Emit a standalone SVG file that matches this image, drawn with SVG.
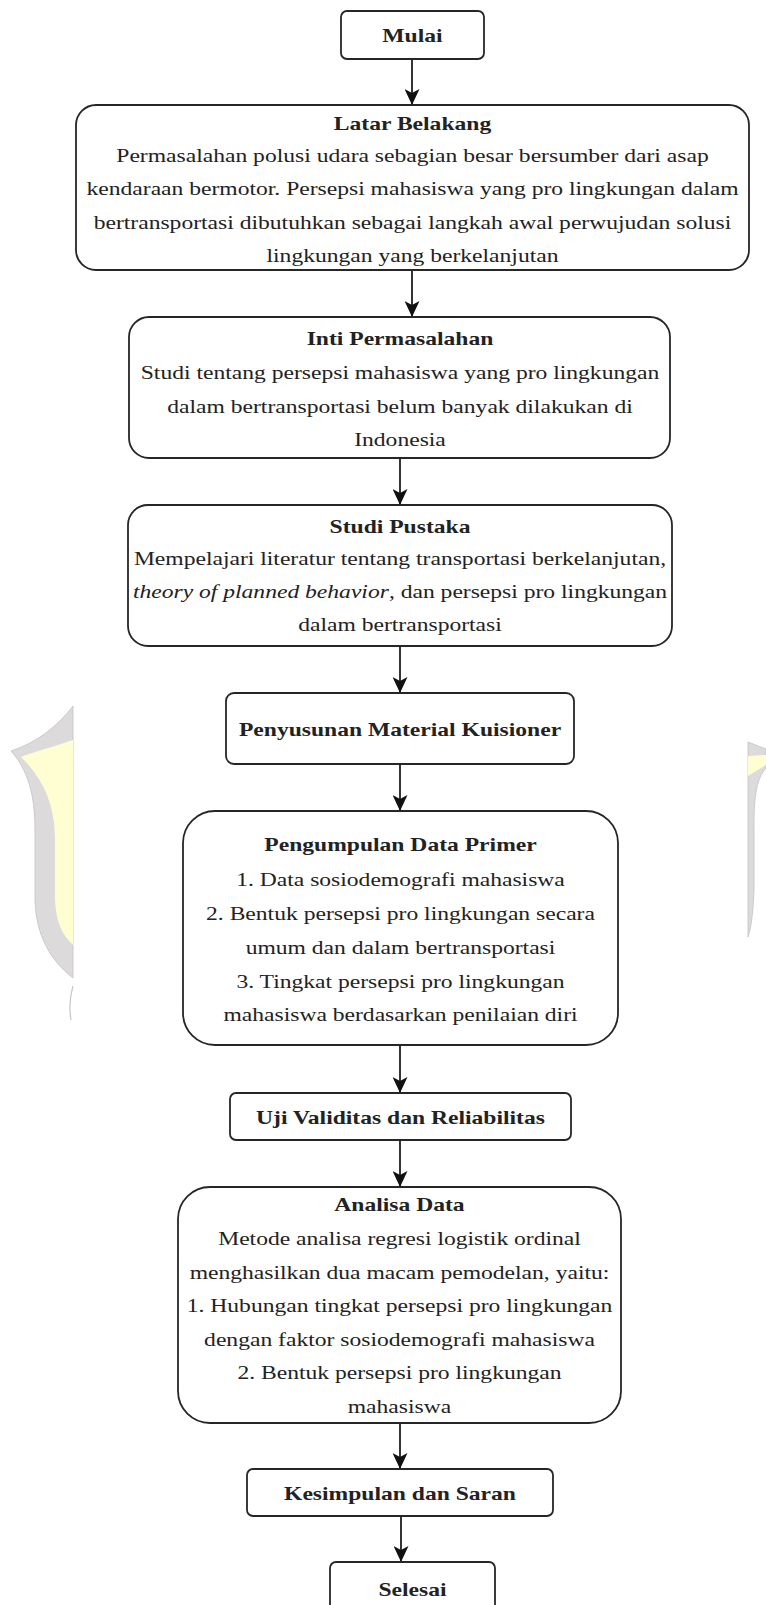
<svg xmlns="http://www.w3.org/2000/svg" width="766" height="1605" viewBox="0 0 766 1605">
<style>
.box{fill:#fff;stroke:#262626;stroke-width:1.8}
.t{font-family:"Liberation Serif","Times New Roman",serif;font-size:19.5px;fill:#222;text-anchor:middle}
.b{font-weight:bold}
.i{font-style:italic}
.edge{stroke:#111;stroke-width:1.7;fill:none;marker-end:url(#ah)}
.wg{fill:#dcdadb;stroke:#c4c2c3;stroke-width:0.8}
.wy{fill:#fffdd2}
</style>
<defs>
<marker id="ah" viewBox="0 0 16 15" refX="16" refY="7.5" markerWidth="16" markerHeight="15" markerUnits="userSpaceOnUse" orient="auto">
<path d="M0,0 L16,7.5 L0,15 L4,7.5 Z" fill="#111"/>
</marker>
</defs>
<rect x="0" y="0" width="766" height="1605" fill="#fff"/>
<g id="watermark">
<path class="wg" d="M73,706 C58,726 36,743 11,751 C28,770 35,795 35,830 L35,900 C36,935 50,960 73,978 Z"/>
<path class="wy" d="M73,740 C52,747 34,752 21,757 C44,780 55,805 55,840 L55,900 C56,922 62,935 73,945 Z"/>
<path d="M73,986 C70,996 69,1008 71,1020" fill="none" stroke="#c8c6c7" stroke-width="1.2"/>
<path class="wg" d="M748,742 L766,749 L766,768 C757,778 754,795 754,825 L754,890 C753,915 751,928 748,937 Z"/>
<path class="wy" d="M748,756 L766,755 L766,765 L748,776 Z"/>
</g>
<g id="connectors">
<line class="edge" x1="412" y1="59" x2="412" y2="105"/>
<line class="edge" x1="412" y1="270" x2="412" y2="317"/>
<line class="edge" x1="400" y1="458" x2="400" y2="505"/>
<line class="edge" x1="400" y1="646" x2="400" y2="693"/>
<line class="edge" x1="400" y1="764" x2="400" y2="811"/>
<line class="edge" x1="400" y1="1045" x2="400" y2="1093"/>
<line class="edge" x1="400" y1="1140" x2="400" y2="1187"/>
<line class="edge" x1="400" y1="1423" x2="400" y2="1469"/>
<line class="edge" x1="401" y1="1516" x2="401" y2="1562"/>
</g>
<g id="mulai">
<rect class="box" x="341" y="11" width="143" height="48" rx="6"/>
<g transform="translate(412.5 0) scale(1.21 1)"><text class="t b" x="0" y="42">Mulai</text></g>
</g>
<g id="latar">
<rect class="box" x="76" y="105" width="673" height="165" rx="20"/>
<g transform="translate(412.5 0) scale(1.21 1)">
<text class="t b" x="0" y="130">Latar Belakang</text>
<text class="t" x="0" y="162">Permasalahan polusi udara sebagian besar bersumber dari asap</text>
<text class="t" x="0" y="195">kendaraan bermotor. Persepsi mahasiswa yang pro lingkungan dalam</text>
<text class="t" x="0" y="229">bertransportasi dibutuhkan sebagai langkah awal perwujudan solusi</text>
<text class="t" x="0" y="262">lingkungan yang berkelanjutan</text>
</g>
</g>
<g id="inti">
<rect class="box" x="129" y="317" width="541" height="141" rx="20"/>
<g transform="translate(400 0) scale(1.21 1)">
<text class="t b" x="0" y="345">Inti Permasalahan</text>
<text class="t" x="0" y="379">Studi tentang persepsi mahasiswa yang pro lingkungan</text>
<text class="t" x="0" y="413">dalam bertransportasi belum banyak dilakukan di</text>
<text class="t" x="0" y="446">Indonesia</text>
</g>
</g>
<g id="studi">
<rect class="box" x="128" y="505" width="544" height="141" rx="20"/>
<g transform="translate(400 0) scale(1.21 1)">
<text class="t b" x="0" y="533">Studi Pustaka</text>
<text class="t" x="0" y="565">Mempelajari literatur tentang transportasi berkelanjutan,</text>
<text class="t" x="0" y="598"><tspan class="i">theory of planned behavior</tspan>, dan persepsi pro lingkungan</text>
<text class="t" x="0" y="631">dalam bertransportasi</text>
</g>
</g>
<g id="penyusunan">
<rect class="box" x="226" y="693" width="348" height="71" rx="8"/>
<g transform="translate(400 0) scale(1.21 1)"><text class="t b" x="0" y="736">Penyusunan Material Kuisioner</text></g>
</g>
<g id="pengumpulan">
<rect class="box" x="183" y="811" width="435" height="234" rx="32"/>
<g transform="translate(400.5 0) scale(1.21 1)">
<text class="t b" x="0" y="851">Pengumpulan Data Primer</text>
<text class="t" x="0" y="886">1. Data sosiodemografi mahasiswa</text>
<text class="t" x="0" y="920">2. Bentuk persepsi pro lingkungan secara</text>
<text class="t" x="0" y="954">umum dan dalam bertransportasi</text>
<text class="t" x="0" y="988">3. Tingkat persepsi pro lingkungan</text>
<text class="t" x="0" y="1021">mahasiswa berdasarkan penilaian diri</text>
</g>
</g>
<g id="uji">
<rect class="box" x="230" y="1093" width="341" height="47" rx="6"/>
<g transform="translate(400.5 0) scale(1.21 1)"><text class="t b" x="0" y="1124">Uji Validitas dan Reliabilitas</text></g>
</g>
<g id="analisa">
<rect class="box" x="178" y="1187" width="443" height="236" rx="32"/>
<g transform="translate(399.5 0) scale(1.21 1)">
<text class="t b" x="0" y="1211">Analisa Data</text>
<text class="t" x="0" y="1245">Metode analisa regresi logistik ordinal</text>
<text class="t" x="0" y="1279">menghasilkan dua macam pemodelan, yaitu:</text>
<text class="t" x="0" y="1312">1. Hubungan tingkat persepsi pro lingkungan</text>
<text class="t" x="0" y="1346">dengan faktor sosiodemografi mahasiswa</text>
<text class="t" x="0" y="1379">2. Bentuk persepsi pro lingkungan</text>
<text class="t" x="0" y="1413">mahasiswa</text>
</g>
</g>
<g id="kesimpulan">
<rect class="box" x="247" y="1469" width="306" height="47" rx="6"/>
<g transform="translate(400 0) scale(1.21 1)"><text class="t b" x="0" y="1500">Kesimpulan dan Saran</text></g>
</g>
<g id="selesai">
<rect class="box" x="330" y="1562" width="165" height="60" rx="6"/>
<g transform="translate(412.5 0) scale(1.21 1)"><text class="t b" x="0" y="1596">Selesai</text></g>
</g>
</svg>
